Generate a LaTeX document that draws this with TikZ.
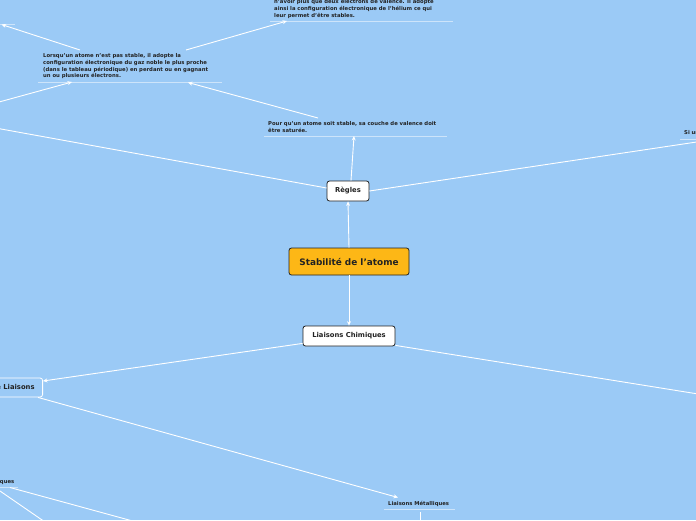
\documentclass[tikz,border=0pt]{standalone}
\usepackage{fontspec}
\setmainfont{DejaVu Sans}
\usetikzlibrary{arrows.meta}
\definecolor{bg}{RGB}{155,202,246}
\definecolor{mainorange}{RGB}{253,183,22}
\definecolor{ink}{RGB}{34,34,34}
\definecolor{uline}{RGB}{205,228,250}
\begin{document}
\begin{tikzpicture}[x=1pt,y=-1pt,
  conn/.style={draw=white, line width=0.9pt},
  arr/.style={conn, -{Stealth[length=4.5pt,width=4pt]}},
  box/.style={draw=ink, line width=0.8pt, rounded corners=2.5pt, text=ink, inner sep=0pt,
    font=\bfseries\fontsize{6.8}{8}\selectfont},
  note/.style={font=\bfseries\fontsize{5.3}{6.7}\selectfont, text=ink, align=left, inner sep=0pt},
  ul/.style={draw=uline, line width=0.8pt}]
\fill[bg] (0,0) rectangle (696,520);
\useasboundingbox (0,0) rectangle (696,520);
\begin{scope}
\clip (0,0) rectangle (696,520);
% central and main boxes
\node[box, fill=mainorange, minimum width=120pt, minimum height=27pt,
  font=\bfseries\fontsize{8.9}{10}\selectfont] (root) at (349,261.5) {Stabilité de l'atome};
\node[box, fill=white, minimum width=42pt, minimum height=20pt] (regles) at (348,191) {Règles};
\node[box, fill=white, minimum width=92pt, minimum height=20pt] (lc) at (349,336) {Liaisons Chimiques};
\node[box, draw=white, fill=bg, minimum height=19pt, inner xsep=8pt, anchor=east] (types) at (43,387.5) {Types de Liaisons};
% notes
\node[note, anchor=north west] (lorsq) at (43,53.5) {Lorsqu'un atome n'est pas stable, il adopte la\\configuration électronique du gaz noble le plus proche\\(dans le tableau périodique) en perdant ou en gagnant\\un ou plusieurs électrons.};
\draw[ul] (38,82) coordinate (lorsqA) -- (222,82) coordinate (lorsqB);
\node[note, anchor=north west] (navoir) at (274,-0.8) {n'avoir plus que deux électrons de valence. Il adopte\\ainsi la configuration électronique de l'hélium ce qui\\leur permet d'être stables.};
\draw[ul] (270,21) coordinate (navoirA) -- (453,21);
\node[note, anchor=north west] (pour) at (268,121.5) {Pour qu'un atome soit stable, sa couche de valence doit\\être saturée.};
\draw[ul] (264,136) coordinate (pourA) -- (447,136);
\node[note, anchor=north west] (siu) at (684,130.5) {Si un atome};
\draw[ul] (680,139) -- (700,139);
\node[note, anchor=north west] (metal) at (388,501) {Liaisons Métalliques};
\draw[ul] (384,509) -- (455,509);
\node[note, anchor=north east] (iono) at (14.5,479.5) {Liaisons Ioniques};
\draw[ul] (-10,487) -- (18,487);
\draw[ul] (-10,24) -- (15,24);
% anchor coordinates
\coordinate (pourIn) at (354,136);
\coordinate (pourOut) at (318,118);
\coordinate (lorsqIn1) at (188,82.5);
\coordinate (lorsqIn2) at (72,82);
\coordinate (lorsqOut1) at (186,50);
\coordinate (lorsqOut2) at (80,50);
\coordinate (navoirIn) at (287,21);
\coordinate (tlIn) at (1.5,24.5);
\coordinate (offA) at (-10,127);
\coordinate (offB) at (-10,104.5);
\coordinate (offC) at (720,138.5);
\coordinate (offD) at (720,397.5);
\coordinate (metalIn) at (398,497.5);
\coordinate (metalOut) at (420,512);
\coordinate (offE) at (420,530);
\coordinate (ionoA) at (10,487.5);
\coordinate (ionoB) at (0,491);
\coordinate (offF) at (140,523);
\coordinate (offG) at (45,522);
% connectors
\draw[arr] (root.north) -- (regles.south);
\draw[arr] (root.south) -- (lc.north);
\draw[arr] (regles.north -| 351,0) -- (pourIn);
\draw[conn] (regles.west) ++(0,-3) -- (offA);
\draw[conn] (regles.east) -- (offC);
\draw[arr] (pourOut) -- (lorsqIn1);
\draw[arr] (lorsqOut1) -- (navoirIn);
\draw[arr] (lorsqOut2) -- (tlIn);
\draw[arr] (offB) -- (lorsqIn2);
\draw[arr] (lc.south west) ++(0,-3) -- (types.east |- 0,381);
\draw[conn] (lc.south east) ++(0,-1) -- (offD);
\draw[arr] (types.south east) ++(-5,0) -- (metalIn);
\draw[conn] (metalOut) -- (offE);
\draw[conn] (ionoA) -- (offF);
\draw[conn] (ionoB) -- (offG);
\end{scope}
\end{tikzpicture}
\end{document}
